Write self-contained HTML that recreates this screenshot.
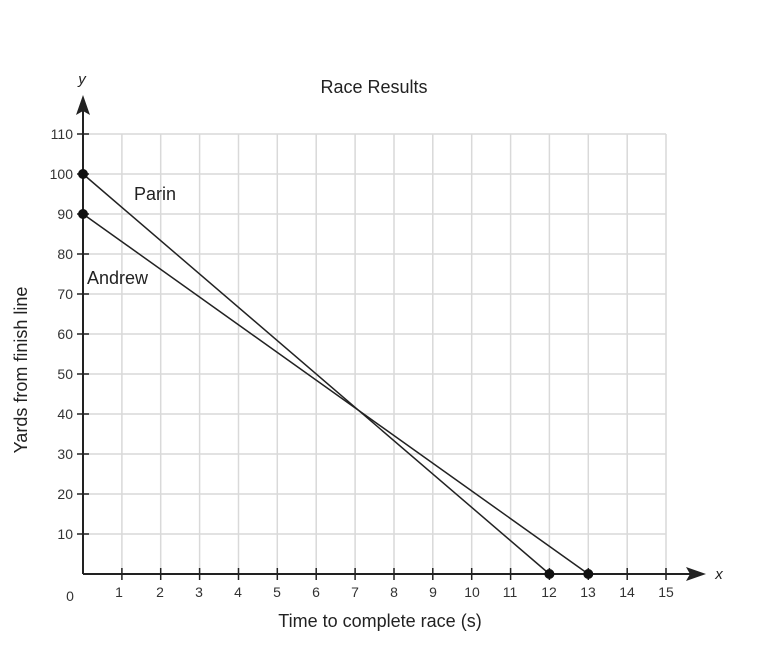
<!DOCTYPE html>
<html><head><style>body{margin:0;background:#fff}</style></head><body>
<svg width="764" height="646" xmlns="http://www.w3.org/2000/svg" font-family="Liberation Sans, sans-serif" fill="#222">
<g stroke="#d9d9d9" stroke-width="1.5">
<line x1="121.9" y1="134" x2="121.9" y2="574"/><line x1="160.7" y1="134" x2="160.7" y2="574"/><line x1="199.6" y1="134" x2="199.6" y2="574"/><line x1="238.5" y1="134" x2="238.5" y2="574"/><line x1="277.3" y1="134" x2="277.3" y2="574"/><line x1="316.2" y1="134" x2="316.2" y2="574"/><line x1="355.1" y1="134" x2="355.1" y2="574"/><line x1="394" y1="134" x2="394" y2="574"/><line x1="432.8" y1="134" x2="432.8" y2="574"/><line x1="471.7" y1="134" x2="471.7" y2="574"/><line x1="510.6" y1="134" x2="510.6" y2="574"/><line x1="549.4" y1="134" x2="549.4" y2="574"/><line x1="588.3" y1="134" x2="588.3" y2="574"/><line x1="627.2" y1="134" x2="627.2" y2="574"/><line x1="666" y1="134" x2="666" y2="574"/>
<line x1="83" y1="534" x2="666" y2="534"/><line x1="83" y1="494" x2="666" y2="494"/><line x1="83" y1="454" x2="666" y2="454"/><line x1="83" y1="414" x2="666" y2="414"/><line x1="83" y1="374" x2="666" y2="374"/><line x1="83" y1="334" x2="666" y2="334"/><line x1="83" y1="294" x2="666" y2="294"/><line x1="83" y1="254" x2="666" y2="254"/><line x1="83" y1="214" x2="666" y2="214"/><line x1="83" y1="174" x2="666" y2="174"/><line x1="83" y1="134" x2="666" y2="134"/>
</g>
<g stroke="#222" stroke-width="2">
<line x1="83" y1="574" x2="695" y2="574"/><line x1="83" y1="574" x2="83" y2="105"/>
</g>
<polygon points="706,574 686,567 690,574 686,581" fill="#222"/>
<polygon points="83,95 76,115 83,111 90,115" fill="#222"/>
<g stroke="#222" stroke-width="1.5">
<line x1="121.9" y1="568" x2="121.9" y2="580"/><line x1="160.7" y1="568" x2="160.7" y2="580"/><line x1="199.6" y1="568" x2="199.6" y2="580"/><line x1="238.5" y1="568" x2="238.5" y2="580"/><line x1="277.3" y1="568" x2="277.3" y2="580"/><line x1="316.2" y1="568" x2="316.2" y2="580"/><line x1="355.1" y1="568" x2="355.1" y2="580"/><line x1="394" y1="568" x2="394" y2="580"/><line x1="432.8" y1="568" x2="432.8" y2="580"/><line x1="471.7" y1="568" x2="471.7" y2="580"/><line x1="510.6" y1="568" x2="510.6" y2="580"/><line x1="549.4" y1="568" x2="549.4" y2="580"/><line x1="588.3" y1="568" x2="588.3" y2="580"/><line x1="627.2" y1="568" x2="627.2" y2="580"/><line x1="666" y1="568" x2="666" y2="580"/>
<line x1="77" y1="534" x2="89" y2="534"/><line x1="77" y1="494" x2="89" y2="494"/><line x1="77" y1="454" x2="89" y2="454"/><line x1="77" y1="414" x2="89" y2="414"/><line x1="77" y1="374" x2="89" y2="374"/><line x1="77" y1="334" x2="89" y2="334"/><line x1="77" y1="294" x2="89" y2="294"/><line x1="77" y1="254" x2="89" y2="254"/><line x1="77" y1="214" x2="89" y2="214"/><line x1="77" y1="174" x2="89" y2="174"/><line x1="77" y1="134" x2="89" y2="134"/>
<line x1="83" y1="174" x2="549.4" y2="574"/><line x1="83" y1="214" x2="588.3" y2="574"/>
</g>
<g fill="#111"><circle cx="83" cy="174" r="5"/><circle cx="83" cy="214" r="5"/><circle cx="549.4" cy="574" r="5"/><circle cx="588.3" cy="574" r="5"/></g>
<g font-size="14" text-anchor="end" fill="#333">
<text x="73" y="539">10</text><text x="73" y="499">20</text><text x="73" y="459">30</text><text x="73" y="419">40</text><text x="73" y="379">50</text><text x="73" y="339">60</text><text x="73" y="299">70</text><text x="73" y="259">80</text><text x="73" y="219">90</text><text x="73" y="179">100</text><text x="73" y="139">110</text>
</g>
<g font-size="14" text-anchor="middle" fill="#333">
<text x="70" y="601">0</text><text x="119" y="597">1</text><text x="160" y="597">2</text><text x="199" y="597">3</text><text x="238" y="597">4</text><text x="277" y="597">5</text><text x="316" y="597">6</text><text x="355" y="597">7</text><text x="394" y="597">8</text><text x="433" y="597">9</text><text x="472" y="597">10</text><text x="510" y="597">11</text><text x="549" y="597">12</text><text x="588" y="597">13</text><text x="627" y="597">14</text><text x="666" y="597">15</text>
</g>
<text x="82" y="84" font-size="15" font-style="italic" text-anchor="middle">y</text>
<text x="719" y="579" font-size="15" font-style="italic" text-anchor="middle">x</text>
<text x="374" y="93" font-size="18" text-anchor="middle">Race Results</text>
<text x="380" y="627" font-size="18" text-anchor="middle">Time to complete race (s)</text>
<text transform="translate(27,370) rotate(-90)" font-size="18" text-anchor="middle">Yards from finish line</text>
<text x="134" y="200" font-size="18">Parin</text>
<text x="87" y="284" font-size="18">Andrew</text>
</svg>
</body></html>
